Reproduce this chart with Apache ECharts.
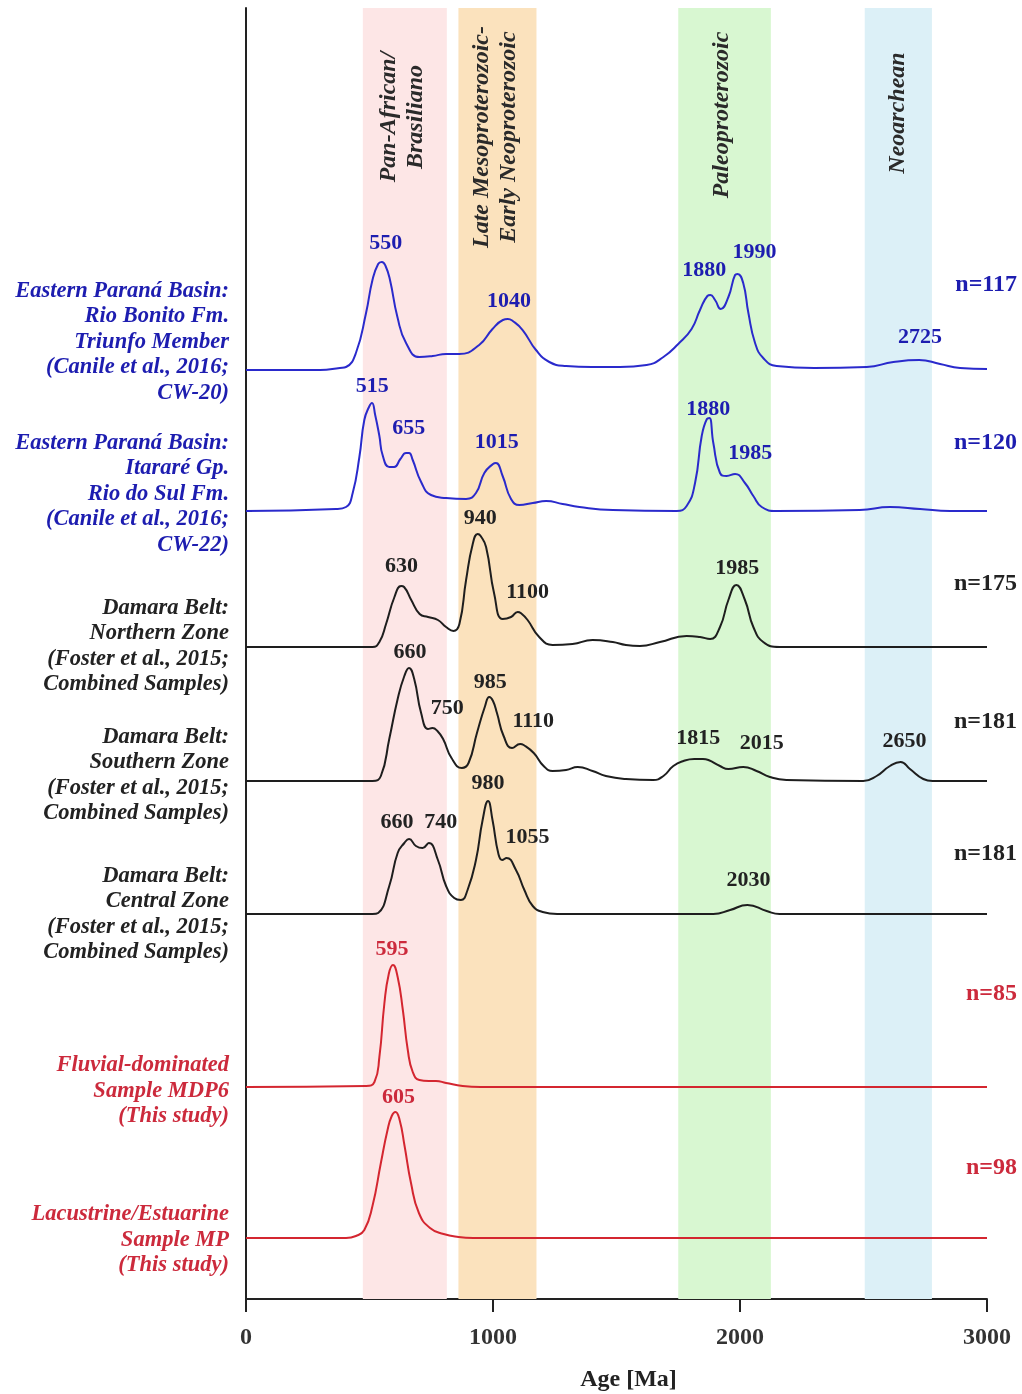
<!DOCTYPE html>
<html><head><meta charset="utf-8">
<script src="https://cdn.jsdelivr.net/npm/echarts@6/dist/echarts.min.js"></script>
<style>html,body{margin:0;padding:0;background:#fff}#c{width:1022px;height:1394px}</style>
</head><body><div id="c"></div>
<script>
// ---------- data ----------
const ageTicks = [0, 1000, 2000, 3000];

const bandNames = ['Pan-African/\nBrasiliano', 'Late Mesoproterozoic-\nEarly Neoproterozoic', 'Paleoproterozoic', 'Neoarchean'];
const bandStart = [473, 860, 1750, 2505];
const bandEnd   = [813, 1176, 2125, 2777];

const sampleNames = [
  'Eastern Paraná Basin:\nRio Bonito Fm.\nTriunfo Member\n(Canile et al., 2016;\nCW-20)',
  'Eastern Paraná Basin:\nItararé Gp.\nRio do Sul Fm.\n(Canile et al., 2016;\nCW-22)',
  'Damara Belt:\nNorthern Zone\n(Foster et al., 2015;\nCombined Samples)',
  'Damara Belt:\nSouthern Zone\n(Foster et al., 2015;\nCombined Samples)',
  'Damara Belt:\nCentral Zone\n(Foster et al., 2015;\nCombined Samples)',
  'Fluvial-dominated\nSample MDP6\n(This study)',
  'Lacustrine/Estuarine\nSample MP\n(This study)'
];
const sampleCounts = ['n=117', 'n=120', 'n=175', 'n=181', 'n=181', 'n=85', 'n=98'];

// density curves: [age Ma, relative density]
const kdeRioBonito = [[0,0],[300,0],[380,2],[405,3],[445,17],[486,57],[512,90],[535,106],[550,108],[565,104],[583,90],[613,53],[648,27],[702,13],[756,14],[810,16],[863,16],[944,25],[998,41],[1040,50],[1060,51],[1080,49],[1120,40],[1174,20],[1228,8],[1296,4],[1400,3],[1514,3],[1622,5],[1690,13],[1750,26],[1804,41],[1838,60],[1868,74],[1880,75],[1899,70],[1922,61],[1953,73],[1980,95],[1990,96],[2013,87],[2034,57],[2061,27],[2094,12],[2148,4],[2300,2],[2513,3],[2621,8],[2725,10],[2810,6],[2891,2],[3000,1]];
const kdeRioDoSul = [[0,0],[364,2],[405,4],[432,18],[459,54],[479,91],[498,104],[510,108],[523,96],[540,75],[553,56],[580,44],[600,44],[625,52],[648,58],[660,58],[675,51],[709,29],[749,16],[810,13],[891,12],[931,18],[965,38],[1000,47],[1012,48],[1039,35],[1073,12],[1107,6],[1161,8],[1215,10],[1282,7],[1350,4],[1485,1],[1743,0],[1784,5],[1818,28],[1845,75],[1866,92],[1876,93],[1892,68],[1919,38],[1946,35],[1980,37],[2020,28],[2054,15],[2088,4],[2148,0],[2485,1],[2607,4],[2729,2],[2850,0],[3000,0]];
const kdeNorthern = [[0,0],[512,0],[540,5],[567,23],[601,50],[628,61],[640,60],[669,47],[703,33],[737,30],[777,27],[810,20],[840,16],[864,23],[891,67],[918,103],[938,113],[950,111],[972,100],[1005,53],[1039,28],[1073,30],[1100,35],[1112,34],[1140,27],[1187,10],[1241,2],[1322,3],[1403,7],[1485,5],[1538,2],[1595,1],[1676,5],[1784,11],[1838,10],[1879,8],[1919,20],[1953,47],[1985,62],[2020,47],[2054,20],[2094,5],[2160,0],[3000,0]];
const kdeSouthern = [[0,0],[512,0],[546,5],[580,42],[614,82],[641,105],[660,113],[681,102],[709,68],[737,52],[755,53],[775,50],[798,42],[832,23],[874,13],[901,18],[935,48],[968,75],[985,84],[1000,80],[1016,68],[1043,45],[1077,33],[1110,37],[1124,36],[1165,28],[1205,15],[1241,10],[1296,11],[1343,14],[1403,10],[1457,5],[1538,2],[1649,1],[1690,5],[1730,15],[1771,20],[1815,22],[1850,22],[1872,21],[1919,15],[1953,12],[2013,14],[2067,10],[2121,4],[2188,1],[2499,0],[2553,5],[2607,15],[2650,19],[2688,12],[2742,2],[2780,0],[3000,0]];
const kdeCentral = [[0,0],[512,0],[535,1],[580,28],[614,61],[641,71],[660,75],[688,68],[715,66],[740,71],[777,54],[810,28],[843,16],[870,14],[897,24],[931,54],[958,94],[980,113],[998,94],[1022,60],[1037,54],[1055,56],[1093,44],[1127,24],[1161,8],[1201,2],[1260,0],[1892,0],[1960,4],[2030,9],[2108,3],[2160,0],[3000,0]];
const kdeMDP6 = [[0,0],[486,1],[520,5],[540,30],[560,83],[578,113],[595,122],[614,110],[635,77],[655,37],[675,15],[702,7],[740,6],[769,6],[810,4],[877,1],[950,0],[3000,0]];
const kdeMP = [[0,0],[405,0],[445,2],[479,8],[512,32],[546,75],[573,108],[590,122],[605,126],[622,118],[642,92],[668,55],[700,25],[745,10],[800,4],[860,1],[920,0],[3000,0]];

const peaksRioBonito = [550, 1040, 1880, 1990, 2725];
const peaksRioDoSul = [515, 655, 1015, 1880, 1985];
const peaksNorthern = [630, 940, 1100, 1985];
const peaksSouthern = [660, 750, 985, 1110, 1815, 2015, 2650];
const peaksCentral = [660, 740, 980, 1055, 2030];
const peaksMDP6 = [595];
const peaksMP = [605];

// ---------- layout / style ----------
const curves = [kdeRioBonito, kdeRioDoSul, kdeNorthern, kdeSouthern, kdeCentral, kdeMDP6, kdeMP];
const peaks = [peaksRioBonito, peaksRioDoSul, peaksNorthern, peaksSouthern, peaksCentral, peaksMDP6, peaksMP];
const baselines = [370, 511, 647, 781, 914, 1087, 1238];
const labelOffsets = [
  [[4,-2],[6,-2],[-6,-8],[17,-5],[1,-6]],
  [[-1,-5],[1,-8],[0,-6],[-2,2],[14,-5]],
  [[0,-3],[2,0],[10,-3],[1,0]],
  [[1,1],[16,-3],[1,2],[13,-6],[4,-4],[18,-7],[4,-4]],
  [[-12,0],[12,-4],[0,-1],[21,-4],[1,-8]],
  [[-1,1]],
  [[3,2]]
];
const BLUE_L = '#2a2acc', BLUE_T = '#1d1db0', BLK_L = '#1e1e1e', BLK_T = '#222222', RED_L = '#d42630', RED_T = '#cc2a3c';
const lineColors = [BLUE_L, BLUE_L, BLK_L, BLK_L, BLK_L, RED_L, RED_L];
const textColors = [BLUE_T, BLUE_T, BLK_T, BLK_T, BLK_T, RED_T, RED_T];
const sampleLabelY = [342, 494, 646, 775, 914, 1091, 1240];
const countLabelY = [285, 443, 584, 722, 854, 994, 1168];
const bandColors = ['#fde6e6', '#fbe2bd', '#d8f7d1', '#dcf0f7'];
const bandLabelPos = [[402, 117], [495, 137], [722, 115], [898, 113]];
const FONT = '"Liberation Serif", "Times New Roman", serif';
const H = 150;

function heightAt(c, a) {
  for (let i = 1; i < c.length; i++) {
    if (c[i][0] >= a) {
      const [x0, y0] = c[i-1], [x1, y1] = c[i];
      return y0 + (y1 - y0) * (a - x0) / (x1 - x0 || 1);
    }
  }
  return 0;
}

const grids = [{ left: 246, right: 35, top: 8, bottom: 95, containLabel: false, outerBoundsMode: 'none' }];
const xAxes = [{
  gridIndex: 0, type: 'value', min: 0, max: 3000, interval: 1000,
  axisLine: { show: true, lineStyle: { color: '#222', width: 2 } },
  axisTick: { show: true, length: 13, lineStyle: { color: '#222', width: 2 } },
  axisLabel: { show: true, margin: 27, color: '#333', fontFamily: FONT, fontWeight: 'bold', fontSize: 24,
    formatter: v => ageTicks.includes(v) ? String(v) : '' },
  splitLine: { show: false },
  name: 'Age [Ma]', nameLocation: 'middle', nameGap: 69,
  nameTextStyle: { color: '#222', fontFamily: FONT, fontWeight: 'bold', fontSize: 24, padding: [0, 0, 0, 24] }
}];
const yAxes = [{
  gridIndex: 0, type: 'value', min: 0, max: 1,
  axisLine: { show: true, lineStyle: { color: '#222', width: 2 } },
  axisTick: { show: false }, axisLabel: { show: false }, splitLine: { show: false }
}];
const series = [{
  type: 'line', xAxisIndex: 0, yAxisIndex: 0, data: [], silent: true, z: 1,
  markArea: {
    silent: true,
    data: bandStart.map((s, i) => [{ xAxis: s, itemStyle: { color: bandColors[i] } }, { xAxis: bandEnd[i] }])
  }
}];

curves.forEach((c, i) => {
  grids.push({ left: 246, right: 35, top: baselines[i] - H, height: H, containLabel: false, outerBoundsMode: 'none' });
  xAxes.push({ gridIndex: i + 1, type: 'value', min: 0, max: 3000, show: false });
  yAxes.push({
    gridIndex: i + 1, type: 'value', min: 0, max: H, show: true,
    axisLine: { show: false }, axisLabel: { show: false }, splitLine: { show: false },
    axisTick: { show: true, inside: true, length: 6, customValues: [0], lineStyle: { color: '#222', width: 1.5 } }
  });
  series.push({
    type: 'line', xAxisIndex: i + 1, yAxisIndex: i + 1, data: c, showSymbol: false, silent: true,
    smooth: 0.5, z: 5,
    lineStyle: { color: lineColors[i], width: 2 },
    markPoint: {
      symbol: 'circle', symbolSize: 1, itemStyle: { color: 'rgba(0,0,0,0)' }, silent: true,
      label: { show: true, position: 'top', distance: 5, formatter: '{c}', color: textColors[i],
        fontFamily: FONT, fontWeight: 'bold', fontSize: 22 },
      data: peaks[i].map((a, j) => ({ coord: [a, heightAt(c, a)], value: a, label: { offset: labelOffsets[i][j] } }))
    }
  });
});

const graphic = [];
bandNames.forEach((t, i) => {
  graphic.push({ type: 'text', x: bandLabelPos[i][0], y: bandLabelPos[i][1], rotation: Math.PI / 2, z: 10,
    style: { text: t, align: 'center', verticalAlign: 'middle', fill: '#2a2a2a', fontFamily: FONT,
      fontStyle: 'italic', fontWeight: 'bold', fontSize: 24, lineHeight: 27 } });
});
sampleNames.forEach((t, i) => {
  graphic.push({ type: 'text', x: 229, y: sampleLabelY[i], z: 10,
    style: { text: t, align: 'right', verticalAlign: 'middle', fill: textColors[i], fontFamily: FONT,
      fontStyle: 'italic', fontWeight: 'bold', fontSize: 22.5, lineHeight: 25.5 } });
  graphic.push({ type: 'text', x: 1017, y: countLabelY[i], z: 10,
    style: { text: sampleCounts[i], align: 'right', verticalAlign: 'middle', fill: textColors[i], fontFamily: FONT,
      fontWeight: 'bold', fontSize: 24 } });
});

const chart = echarts.init(document.getElementById('c'), null, { renderer: 'canvas' });
chart.setOption({
  animation: false, backgroundColor: '#fff',
  grid: grids, xAxis: xAxes, yAxis: yAxes, series: series, graphic: graphic
});
</script></body></html>
